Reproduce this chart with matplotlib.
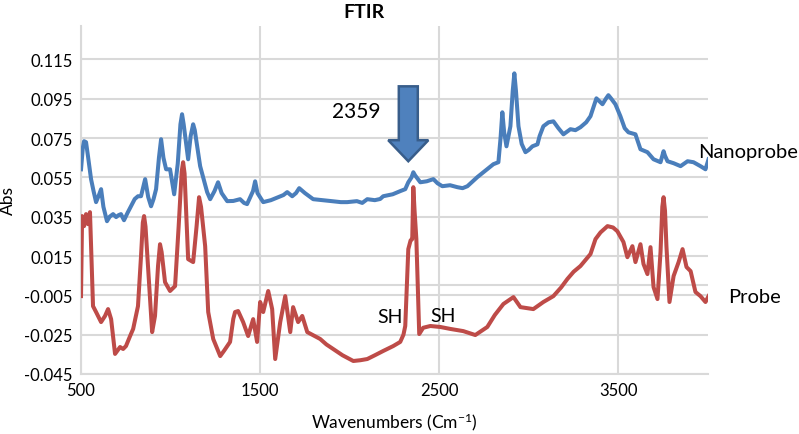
import matplotlib
matplotlib.use("Agg")
import matplotlib.pyplot as plt
from matplotlib.patches import FancyArrow

plt.rcParams.update({
    'font.family': ['Lato', 'DejaVu Sans'],
    'mathtext.fontset': 'custom',
    'mathtext.rm': 'Lato',
    'mathtext.it': 'Lato:italic',
    'mathtext.bf': 'Lato:bold',
})

# --- Nanoprobe spectrum ---
nano_wn = [500, 510, 517, 528, 539, 556, 570, 584, 600, 612, 625, 645, 660, 679, 696,
           710, 723, 740, 760, 779, 800, 818, 835, 858, 875, 891, 905, 919, 935, 947,
           960, 975, 997, 1020, 1040, 1055, 1064, 1073, 1098, 1112, 1126, 1135, 1165,
           1204, 1221, 1245, 1265, 1285, 1316, 1350, 1388, 1410, 1427, 1460, 1472, 1485,
           1517, 1560, 1600, 1630, 1651, 1679, 1700, 1718, 1750, 1796, 1850, 1900, 1950,
           1986, 2040, 2070, 2098, 2140, 2170, 2187, 2240, 2282, 2310, 2327, 2345, 2355,
           2365, 2394, 2430, 2467, 2490, 2517, 2560, 2601, 2630, 2657, 2712, 2760, 2802,
           2830, 2842, 2852, 2862, 2875, 2897, 2910, 2919, 2928, 2942, 2960, 2981, 3000,
           3020, 3048, 3060, 3081, 3110, 3137, 3165, 3193, 3232, 3260, 3288, 3320, 3344,
           3377, 3411, 3430, 3444, 3460, 3483, 3511, 3535, 3556, 3595, 3623, 3662, 3696,
           3735, 3745, 3752, 3760, 3774, 3808, 3847, 3886, 3919, 3958, 3986, 4003]
nano_abs = [0.0591, 0.0700, 0.0734, 0.0729, 0.0657, 0.0541, 0.0480, 0.0424, 0.0460,
            0.0490, 0.0400, 0.0327, 0.0350, 0.0363, 0.0348, 0.0358, 0.0363, 0.0332,
            0.0370, 0.0403, 0.0440, 0.0454, 0.0454, 0.0541, 0.0450, 0.0403, 0.0440,
            0.0490, 0.0650, 0.0744, 0.0650, 0.0591, 0.0591, 0.0464, 0.0620, 0.0820,
            0.0871, 0.0820, 0.0642, 0.0760, 0.0820, 0.0790, 0.0607, 0.0475, 0.0439,
            0.0480, 0.0525, 0.0470, 0.0429, 0.0430, 0.0439, 0.0420, 0.0414, 0.0480,
            0.0530, 0.0470, 0.0424, 0.0434, 0.0449, 0.0460, 0.0475, 0.0454, 0.0470,
            0.0495, 0.0470, 0.0439, 0.0434, 0.0429, 0.0424, 0.0424, 0.0429, 0.0420,
            0.0439, 0.0434, 0.0440, 0.0454, 0.0464, 0.0480, 0.0490, 0.0525, 0.0550,
            0.0576, 0.0560, 0.0525, 0.0530, 0.0541, 0.0520, 0.0505, 0.0510, 0.0500,
            0.0495, 0.0505, 0.0551, 0.0586, 0.0617, 0.0627, 0.0750, 0.0881, 0.0780,
            0.0708, 0.0810, 0.0990, 0.1079, 0.0990, 0.0810, 0.0720, 0.0678, 0.0690,
            0.0708, 0.0718, 0.0760, 0.0810, 0.0830, 0.0835, 0.0800, 0.0769, 0.0795,
            0.0790, 0.0805, 0.0830, 0.0861, 0.0952, 0.0922, 0.0950, 0.0968, 0.0950,
            0.0922, 0.0861, 0.0800, 0.0779, 0.0769, 0.0693, 0.0678, 0.0642, 0.0627,
            0.0660, 0.0683, 0.0660, 0.0632, 0.0622, 0.0607, 0.0632, 0.0627, 0.0607,
            0.0591, 0.0642]

# --- Probe spectrum ---
probe_wn = [500, 506, 517, 528, 539, 550, 567, 584, 612, 634, 651, 668, 690, 718, 735,
            751, 774, 791, 818, 835, 845, 852, 860, 874, 897, 913, 930, 941, 950, 969,
            997, 1025, 1045, 1062, 1070, 1078, 1098, 1126, 1145, 1159, 1170, 1193, 1210,
            1238, 1277, 1300, 1332, 1350, 1360, 1377, 1405, 1433, 1461, 1483, 1500,
            1517, 1545, 1567, 1584, 1612, 1640, 1668, 1684, 1712, 1735, 1763, 1800,
            1835, 1870, 1908, 1960, 2020, 2060, 2098, 2140, 2187, 2243, 2282, 2300,
            2310, 2327, 2340, 2349, 2355, 2362, 2372, 2388, 2410, 2450, 2506, 2562,
            2634, 2701, 2768, 2810, 2858, 2914, 2953, 3025, 3081, 3137, 3180, 3215,
            3250, 3288, 3344, 3372, 3400, 3439, 3470, 3494, 3528, 3550, 3578, 3595,
            3623, 3640, 3662, 3679, 3696, 3718, 3735, 3745, 3752, 3760, 3768, 3785,
            3808, 3836, 3858, 3880, 3903, 3930, 3958, 3986, 4003]
probe_abs = [-0.0054, 0.0353, 0.0302, 0.0363, 0.0312, 0.0373, -0.0105, -0.0135,
             -0.0186, -0.0155, -0.0120, -0.0171, -0.0348, -0.0313, -0.0323, -0.0308,
             -0.0257, -0.0221, -0.0105, 0.0150, 0.0320, 0.0353, 0.0300, 0.0099,
             -0.0237, -0.0155, 0.0100, 0.0210, 0.0170, 0.0017, -0.0028, -0.0003,
             0.0300, 0.0580, 0.0627, 0.0570, 0.0134, 0.0119, 0.0300, 0.0449, 0.0400,
             0.0200, -0.0135, -0.0272, -0.0359, -0.0330, -0.0287, -0.0170, -0.0135,
             -0.0130, -0.0186, -0.0257, -0.0171, -0.0287, -0.0084, -0.0135, -0.0028,
             -0.0120, -0.0374, -0.0186, -0.0054, -0.0237, -0.0110, -0.0186, -0.0155,
             -0.0237, -0.0255, -0.0272, -0.0300, -0.0323, -0.0355, -0.0384, -0.0380,
             -0.0374, -0.0355, -0.0333, -0.0308, -0.0287, -0.0250, -0.0206, 0.0185,
             0.0230, 0.0236, 0.0500, 0.0380, 0.0236, -0.0247, -0.0215, -0.0206,
             -0.0211, -0.0221, -0.0232, -0.0252, -0.0211, -0.0150, -0.0094, -0.0059,
             -0.0110, -0.0120, -0.0084, -0.0054, -0.0010, 0.0033, 0.0070, 0.0099,
             0.0160, 0.0236, 0.0270, 0.0302, 0.0295, 0.0276, 0.0221, 0.0144, 0.0200,
             0.0119, 0.0210, 0.0109, 0.0058, 0.0195, -0.0008, -0.0069, 0.0170, 0.0400,
             0.0449, 0.0380, 0.0200, -0.0084, 0.0048, 0.0119, 0.0185, 0.0094, 0.0073,
             -0.0033, -0.0054, -0.0084, -0.0054]

x_ticks = [500, 1500, 2500, 3500]
y_ticks = [-0.045, -0.025, -0.005, 0.015, 0.035, 0.055, 0.075, 0.095, 0.115]

BLUE = "#4A7EBB"
RED = "#BE4B48"
GRID = "#D9D9D9"

fig = plt.figure(figsize=(7.99, 4.35), dpi=100)
ax = fig.add_axes([0.1014, 0.138, 0.7847, 0.800])

ax.plot(nano_wn, nano_abs, color=BLUE, lw=2.9, solid_joinstyle="round", zorder=3)
ax.plot(probe_wn, probe_abs, color=RED, lw=2.9, solid_joinstyle="round", zorder=3)

ax.set_xlim(500, 4000)
ax.set_ylim(-0.045, 0.132)
ax.set_xticks(x_ticks)
ax.set_yticks(y_ticks)
ax.set_yticklabels([f"{v:.3f}" for v in y_ticks])
ax.grid(True, color=GRID, lw=1.5)
ax.axhline(0, color=GRID, lw=1.5, zorder=1)
ax.set_axisbelow(True)
ax.tick_params(length=0, labelsize=12, pad=6, colors="black")
for side in ["top", "right"]:
    ax.spines[side].set_visible(False)
for side in ["left", "bottom"]:
    ax.spines[side].set_color(GRID)
    ax.spines[side].set_linewidth(1.5)

ax.set_xlabel("Wavenumbers (Cm$^{-1}$)", fontsize=12.5, labelpad=9)
ax.set_ylabel("Abs", fontsize=12.5, labelpad=6)
fig.text(0.456, 0.972, "FTIR", fontsize=14, fontweight="bold", ha="center", va="center")

# block arrow pointing at 2359
arrow = FancyArrow(2327, 0.1013, 0, -0.0381, width=106, head_width=224,
                   head_length=0.0107, length_includes_head=True,
                   facecolor="#4F81BD", edgecolor="#385D8A", lw=1.8, zorder=4)
ax.add_patch(arrow)

ax.text(1902, 0.0886, "2359", fontsize=15, va="center", ha="left")
ax.text(3947, 0.0683, "Nanoprobe", fontsize=14.5, va="center", ha="left", clip_on=False, zorder=5)
ax.text(4115, -0.0054, "Probe", fontsize=14.5, va="center", ha="left", clip_on=False)
ax.text(2154, -0.016, "SH", fontsize=14, va="center", ha="left")
ax.text(2450, -0.0155, "SH", fontsize=14, va="center", ha="left")

fig.savefig("out.png", dpi=100)
